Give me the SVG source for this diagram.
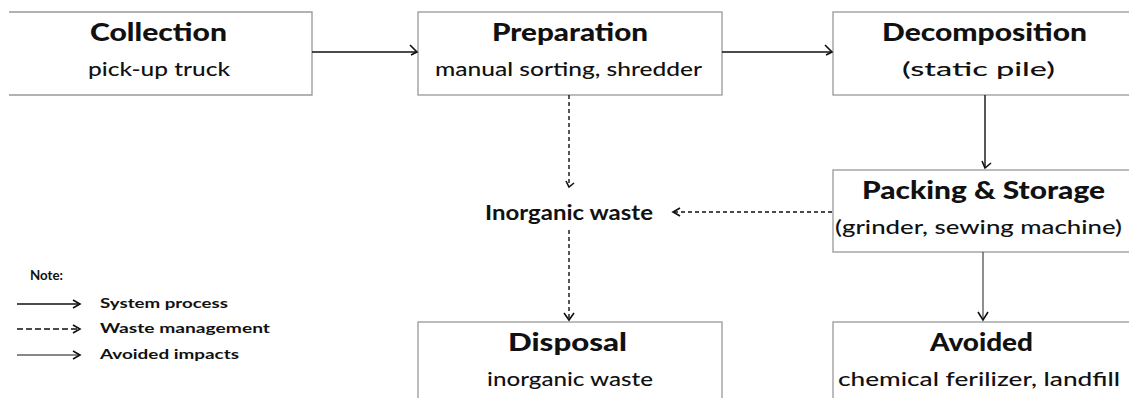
<svg xmlns="http://www.w3.org/2000/svg" width="1129" height="398" viewBox="0 0 1129 398">
<defs>
<style>
.box{fill:#fff;stroke:#999;stroke-width:1.3}
.t{font-family:Lato,"Liberation Sans",sans-serif;font-weight:900;font-size:24px;fill:#111;text-anchor:middle}
.s{font-family:Lato,"Liberation Sans",sans-serif;font-weight:500;font-size:20px;fill:#111;text-anchor:middle}
.lg{font-family:Lato,"Liberation Sans",sans-serif;font-weight:bold;font-size:13.5px;fill:#111}
.ln{stroke:#111;stroke-width:1.4;fill:none}
.dash{stroke:#111;stroke-width:1.4;fill:none;stroke-dasharray:4 3}
.head{stroke:#111;stroke-width:1.6;fill:none}
</style>
</defs>
<rect width="1129" height="398" fill="#fff"/>
<g id="collection">
<path class="box" d="M9,12 H312 V95 H9"/>
<text class="t" x="158.5" y="41" textLength="137" lengthAdjust="spacingAndGlyphs">Collection</text>
<text class="s" x="159" y="76" textLength="142" lengthAdjust="spacingAndGlyphs">pick-up truck</text>
</g>
<g id="preparation">
<rect class="box" x="418" y="12" width="304" height="83"/>
<text class="t" x="570" y="41" textLength="156" lengthAdjust="spacingAndGlyphs">Preparation</text>
<text class="s" x="568.5" y="76" textLength="267" lengthAdjust="spacingAndGlyphs">manual sorting, shredder</text>
</g>
<g id="decomposition">
<rect class="box" x="833" y="12" width="310" height="83"/>
<text class="t" x="984.5" y="41" textLength="205" lengthAdjust="spacingAndGlyphs">Decomposition</text>
<text class="s" x="978.5" y="76" textLength="153" lengthAdjust="spacingAndGlyphs">(static pile)</text>
</g>
<g id="packing">
<rect class="box" x="833" y="170" width="310" height="82"/>
<text class="t" x="983.5" y="199" textLength="243" lengthAdjust="spacingAndGlyphs">Packing &amp; Storage</text>
<text class="s" x="978.5" y="234" textLength="287" lengthAdjust="spacingAndGlyphs">(grinder, sewing machine)</text>
</g>
<g id="inorganic">
<text class="s" x="569" y="220" textLength="168" lengthAdjust="spacingAndGlyphs" style="font-weight:bold">Inorganic waste</text>
</g>
<g id="disposal">
<rect class="box" x="418" y="322" width="304" height="90"/>
<text class="t" x="567.5" y="351" textLength="119" lengthAdjust="spacingAndGlyphs">Disposal</text>
<text class="s" x="570" y="386" textLength="166" lengthAdjust="spacingAndGlyphs">inorganic waste</text>
</g>
<g id="avoided">
<rect class="box" x="833" y="322" width="310" height="90"/>
<text class="t" x="981.5" y="351" textLength="103" lengthAdjust="spacingAndGlyphs">Avoided</text>
<text class="s" x="979" y="386" textLength="282" lengthAdjust="spacingAndGlyphs">chemical ferilizer, landfill</text>
</g>
<g id="legend">
<text class="lg" x="30" y="280" textLength="33" lengthAdjust="spacingAndGlyphs">Note:</text>
<line class="ln" x1="17" y1="304" x2="79" y2="304"/>
<path class="head" d="M73,300 L80,304 L73,308"/>
<text class="lg" x="100" y="308" textLength="128" lengthAdjust="spacingAndGlyphs">System process</text>
<line class="dash" x1="17" y1="329" x2="79" y2="329" style="stroke-dasharray:6 3"/>
<path class="head" d="M73,325 L80,329 L73,333"/>
<text class="lg" x="100" y="333" textLength="170" lengthAdjust="spacingAndGlyphs">Waste management</text>
<line class="ln" x1="17" y1="355" x2="79" y2="355" style="stroke-width:1"/>
<path class="head" d="M73,351 L80,355 L73,359"/>
<text class="lg" x="100" y="359" textLength="139" lengthAdjust="spacingAndGlyphs">Avoided impacts</text>
</g>
<g id="connectors">
<line class="ln" x1="312" y1="52" x2="417" y2="52"/>
<path class="head" d="M410,45 L417,52 L411,55"/>
<line class="ln" x1="722" y1="52" x2="832" y2="52"/>
<path class="head" d="M825,45 L832,52 L826,55"/>
<line class="ln" x1="985" y1="95" x2="985" y2="168"/>
<path class="head" d="M982,161 L985,168 L991,163"/>
<line class="dash" x1="569" y1="95" x2="569" y2="187"/>
<path class="head" d="M566,181 L569,187 L574,183"/>
<line class="dash" x1="832" y1="212" x2="673" y2="212"/>
<path class="head" d="M680,208 L673,212 L680,216"/>
<line class="dash" x1="569" y1="230" x2="569" y2="320"/>
<path class="head" d="M564,313 L569,320 L574,313"/>
<line x1="983" y1="252" x2="983" y2="320" stroke="#444" stroke-width="1.2"/>
<path class="head" d="M978,312 L983,320 L988,312"/>
</g>
</svg>
